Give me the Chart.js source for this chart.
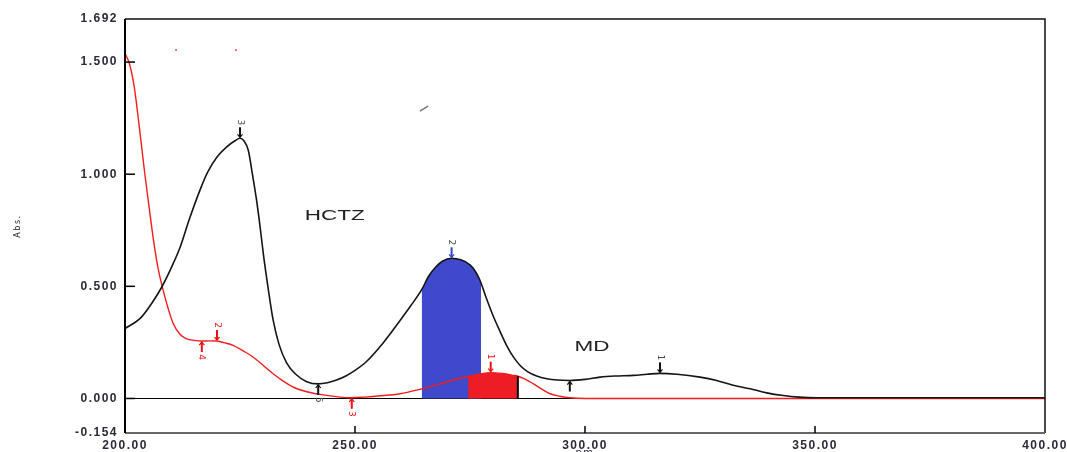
<!DOCTYPE html>
<html>
<head>
<meta charset="utf-8">
<script src="https://cdn.jsdelivr.net/npm/chart.js@4.4.1/dist/chart.umd.min.js"></script>
<style>
    html, body { margin: 0; padding: 0; background: #fff; overflow: hidden; }
    .wrap { width: 1067px; height: 462px; position: relative; }
</style>
</head>
<body>
<div class="wrap"><canvas id="spectrum"></canvas></div>
<script>
// HCTZ spectrum (black)
const hctzNm = [200, 203.3, 206, 208, 210, 212, 214, 216.3, 218, 220, 222, 224, 225, 225.8, 226.8, 227.7,
    228.6, 229.4, 230.1, 231.2, 232.2, 233.5, 235.1, 237, 239.5, 242, 244, 246, 248, 250, 252.5, 256.2,
    259.8, 262, 264.5, 266, 267.5, 269, 271, 273, 275, 276, 277, 277.4, 278.5, 280, 281.5, 283, 284.5,
    286, 287.5, 289.5, 291.7, 294, 296.7, 300, 303.3, 306.5, 310.5, 313.5, 316.3, 320, 325,
    328.6, 332, 335.9, 339.5, 343.1, 346.5, 350.4, 360, 380, 400];
const hctzAbs = [0.312, 0.357, 0.43, 0.497, 0.58, 0.675, 0.8, 0.929, 1.01, 1.077, 1.12, 1.15, 1.16, 1.15, 1.107, 1.0,
    0.884, 0.76, 0.64, 0.48, 0.35, 0.24, 0.16, 0.11, 0.075, 0.065, 0.07, 0.082, 0.1, 0.125, 0.165, 0.25,
    0.348, 0.41, 0.485, 0.545, 0.585, 0.612, 0.625, 0.618, 0.596, 0.572, 0.535, 0.515, 0.45, 0.37, 0.3, 0.235, 0.183,
    0.145, 0.12, 0.1, 0.088, 0.082, 0.08, 0.085, 0.095, 0.1, 0.103, 0.108, 0.112, 0.108, 0.095,
    0.08, 0.06, 0.043, 0.025, 0.013, 0.006, 0.003, 0.003, 0.003, 0.003];

// MD spectrum (red)
const mdNm = [200, 201, 202, 203, 204.3, 205.2, 206.2, 207.2, 208.3, 209.4, 210.5, 212, 213.4, 215,
    216.7, 218.3, 219.9, 221.7, 223.5, 225.7, 227.9, 230, 232.2, 234.4, 236.6, 239.5, 242.4, 246.7,
    249.3, 252, 255, 259.8, 264.5, 268, 271, 274.6, 277, 279.5, 282, 284.4, 285.4, 286.6, 288.8,
    290.5, 292.4, 294.5, 296.7, 300, 350, 400];
const mdAbs = [1.539, 1.49, 1.39, 1.23, 1.003, 0.86, 0.705, 0.58, 0.482, 0.4, 0.333, 0.285, 0.266, 0.259,
    0.256, 0.257, 0.256, 0.248, 0.237, 0.212, 0.184, 0.148, 0.11, 0.077, 0.05, 0.03, 0.018, 0.006,
    0.003, 0.006, 0.011, 0.021, 0.043, 0.062, 0.08, 0.098, 0.108, 0.115, 0.111, 0.103, 0.099, 0.09, 0.065,
    0.043, 0.021, 0.01, 0.003, 0, 0, 0];

// integration ranges (nm)
const hctzArea = [264.5, 277.4];
const mdArea = [274.6, 285.4];

// stray marks
const strayNm = [211.1, 224.1];
const strayAbs = [1.554, 1.554];
const dashNm = [264.1, 265.9];
const dashAbs = [1.281, 1.304];

// peak/valley picks: [nm, abs, label, side (1 above, -1 below)]
const hctzPicks = [[225, 1.16, "3", 1], [271, 0.625, "2", 1], [316.3, 0.112, "1", 1], [242, 0.065, "5", -1], [296.7, 0.08, "", -1]];
const mdPicks = [[220, 0.256, "2", 1], [216.7, 0.256, "4", -1], [249.3, 0.003, "3", -1], [279.5, 0.115, "1", 1]];
const hctzPickColors = ["#111", "#3344bb", "#111", "#111", "#111"];

// text labels: [nm, abs, text]
const names = [[245.6, 0.815, "HCTZ"], [301.5, 0.228, "MD"]];

const yTicks = [-0.154, 0, 0.5, 1, 1.5, 1.692];
const xTicks = [200, 250, 300, 350, 400];

const toPts = (xs, ys) => xs.map((x, i) => ({ x: x, y: ys[i] }));
const inRange = (pts, r) => pts.filter((p) => p.x >= r[0] && p.x <= r[1]);

const hctzPts = toPts(hctzNm, hctzAbs);
const mdPts = toPts(mdNm, mdAbs);

const overlay = {
    id: "overlay",
    beforeUpdate(chart) { chart.ctx.letterSpacing = "1.5px"; },
    beforeDraw(chart) { chart.ctx.letterSpacing = "1.5px"; },
    beforeDatasetsDraw(chart) {
        const { ctx, scales: { x, y } } = chart;
        ctx.save();
        ctx.strokeStyle = "#000";
        ctx.lineWidth = 1.2;
        const y0 = Math.round(y.getPixelForValue(0)) + 0.5;
        ctx.beginPath();
        ctx.moveTo(x.left, y0);
        ctx.lineTo(x.right, y0);
        ctx.stroke();
        ctx.restore();
    },
    afterDatasetsDraw(chart) {
        const { ctx, scales: { x, y } } = chart;
        const L = x.left, R = x.right, T = y.top, B = y.bottom;
        ctx.save();
        ctx.letterSpacing = "0px";

        // right edge of MD area
        const last = inRange(mdPts, mdArea).pop();
        ctx.strokeStyle = "#000";
        ctx.lineWidth = 2;
        ctx.beginPath();
        ctx.moveTo(x.getPixelForValue(last.x), y.getPixelForValue(0));
        ctx.lineTo(x.getPixelForValue(last.x), y.getPixelForValue(last.y));
        ctx.stroke();

        // frame
        ctx.lineWidth = 1.5;
        ctx.strokeStyle = "#111";
        ctx.beginPath();
        ctx.moveTo(L, T);
        ctx.lineTo(R, T);
        ctx.lineTo(R, B);
        ctx.stroke();
        ctx.strokeStyle = "#666";
        ctx.lineWidth = 2;
        ctx.beginPath();
        ctx.moveTo(L, B);
        ctx.lineTo(R, B);
        ctx.stroke();
        ctx.strokeStyle = "#000";
        ctx.beginPath();
        ctx.moveTo(L, T);
        ctx.lineTo(L, B);
        ctx.stroke();

        // inward tick marks
        ctx.lineWidth = 1.5;
        yTicks.slice(1, 5).forEach((v) => {
            const py = y.getPixelForValue(v);
            ctx.beginPath();
            ctx.moveTo(L, py);
            ctx.lineTo(L + 10, py);
            ctx.stroke();
        });
        xTicks.slice(1, 4).forEach((v) => {
            const px = x.getPixelForValue(v);
            ctx.beginPath();
            ctx.moveTo(px, B);
            ctx.lineTo(px, B - 7);
            ctx.stroke();
        });

        // peak picks
        const mark = (p, color, textColor) => {
            const px = x.getPixelForValue(p[0]);
            const py = y.getPixelForValue(p[1]);
            const s = -p[3];
            ctx.strokeStyle = color;
            ctx.lineWidth = 2;
            ctx.beginPath();
            ctx.moveTo(px, py + s * 1);
            ctx.lineTo(px, py + s * 11);
            ctx.stroke();
            ctx.lineWidth = 1.2;
            ctx.beginPath();
            ctx.moveTo(px - 2.5, py + s * 4);
            ctx.lineTo(px, py + s * 1);
            ctx.lineTo(px + 2.5, py + s * 4);
            ctx.stroke();
            if (p[2]) {
                ctx.save();
                ctx.translate(px, py + s * 16);
                ctx.rotate(Math.PI / 2);
                ctx.fillStyle = textColor;
                ctx.font = '9px "DejaVu Sans"';
                ctx.textAlign = "center";
                ctx.textBaseline = "middle";
                ctx.fillText(p[2], 0, 0);
                ctx.restore();
            }
        };
        hctzPicks.forEach((p, i) => mark(p, hctzPickColors[i], "#445"));
        mdPicks.forEach((p) => mark(p, "#ee1111", "#ee1111"));

        // compound names
        names.forEach((n) => {
            ctx.save();
            ctx.translate(x.getPixelForValue(n[0]), y.getPixelForValue(n[1]));
            ctx.scale(1.5, 1);
            ctx.fillStyle = "#222";
            ctx.font = '15px "Liberation Sans"';
            ctx.textAlign = "center";
            ctx.textBaseline = "middle";
            ctx.fillText(n[2], 0, 0);
            ctx.restore();
        });
        ctx.restore();
    },
};

const tickFont = { family: "Liberation Sans", size: 12, weight: "bold" };

new Chart(document.getElementById("spectrum"), {
    type: "line",
    data: {
        datasets: [
            {
                label: "HCTZ",
                data: hctzPts,
                borderColor: "#151515",
                borderWidth: 1.6,
                pointRadius: 0,
                cubicInterpolationMode: "monotone",
                order: 1,
            },
            {
                label: "MD",
                data: mdPts,
                borderColor: "#f21c1c",
                borderWidth: 1.4,
                pointRadius: 0,
                cubicInterpolationMode: "monotone",
                order: 2,
            },
            {
                label: "MD area",
                data: inRange(mdPts, mdArea),
                borderWidth: 0,
                pointRadius: 0,
                backgroundColor: "#ee1c24",
                fill: "origin",
                cubicInterpolationMode: "monotone",
                order: 3,
            },
            {
                label: "HCTZ area",
                data: inRange(hctzPts, hctzArea),
                borderWidth: 0,
                pointRadius: 0,
                backgroundColor: "#4049cc",
                fill: "origin",
                cubicInterpolationMode: "monotone",
                order: 4,
            },
            {
                label: "stray",
                data: toPts(strayNm, strayAbs),
                showLine: false,
                pointRadius: 1,
                borderWidth: 0,
                backgroundColor: "#f44",
                order: 5,
            },
            {
                label: "dash",
                data: toPts(dashNm, dashAbs),
                borderColor: "#777",
                borderWidth: 1.5,
                pointRadius: 0,
                order: 5,
            },
        ],
    },
    plugins: [overlay],
    options: {
        responsive: true,
        maintainAspectRatio: false,
        animation: false,
        layout: { padding: { top: 19, right: 22, left: 0, bottom: 0 } },
        plugins: {
            legend: { display: false },
            tooltip: { enabled: false },
        },
        scales: {
            x: {
                type: "linear",
                min: 200,
                max: 400,
                afterBuildTicks: (s) => { s.ticks = xTicks.map((v) => ({ value: v })); },
                afterFit: (s) => { s.height = 29; s.paddingLeft = 0; s.paddingRight = 0; },
                grid: { display: false, drawTicks: false },
                border: { display: false },
                ticks: {
                    padding: 5,
                    maxRotation: 0,
                    autoSkip: false,
                    color: "#2a2a3a",
                    font: tickFont,
                    callback: (v) => Number(v).toFixed(2),
                },
                title: {
                    display: true,
                    text: "nm",
                    color: "#2a2a3a",
                    font: { family: "DejaVu Sans", size: 10 },
                    padding: { top: 0, bottom: 3 },
                },
            },
            y: {
                type: "linear",
                min: -0.154,
                max: 1.692,
                afterBuildTicks: (s) => { s.ticks = yTicks.map((v) => ({ value: v })); },
                afterFit: (s) => { s.width = 125; s.paddingTop = 0; s.paddingBottom = 0; },
                grid: { display: false, drawTicks: false },
                border: { display: false },
                ticks: {
                    padding: 7,
                    autoSkip: false,
                    color: "#2a2a3a",
                    font: tickFont,
                    callback: (v) => Number(v).toFixed(3),
                },
                title: {
                    display: true,
                    text: "Abs.",
                    color: "#2a2a3a",
                    font: { family: "DejaVu Sans", size: 8 },
                    padding: { top: 13, bottom: 0 },
                },
            },
        },
    },
});
</script>
</body>
</html>
